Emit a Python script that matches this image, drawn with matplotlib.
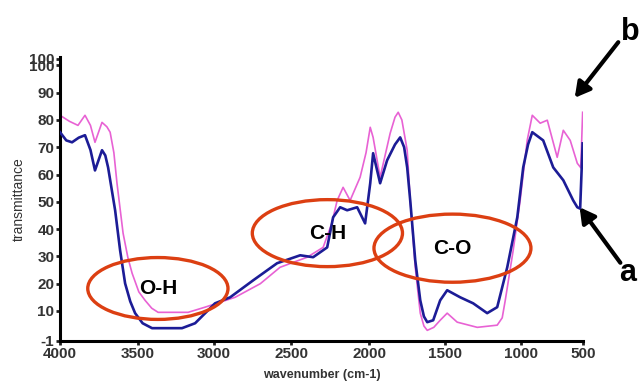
import matplotlib.pyplot as plt
from matplotlib.patches import Ellipse
import numpy as np

plt.rcParams['font.family'] = ['Liberation Sans', 'DejaVu Sans']

# spectrum b (pink)
wn_b = [4000, 3940, 3885, 3840, 3805, 3776, 3731, 3700, 3679, 3655, 3635,
        3596, 3565, 3538, 3495, 3454, 3410, 3368, 3171, 3059, 2864, 2700,
        2572, 2397, 2295, 2240, 2205, 2167, 2122, 2058, 2020, 1993,
        1974, 1928, 1862, 1830, 1809, 1785, 1750, 1730, 1697, 1664, 1640,
        1618, 1575, 1533, 1487, 1421, 1289, 1158, 1125, 1105, 1053, 1007,
        952, 911, 847, 790, 710, 661, 605, 548, 520, 505]
tr_b = [81.7, 79.5, 78.0, 81.7, 78.0, 71.8, 79.1, 77.5, 75.5, 68.0, 56.8,
        38.5, 29.5, 23.8, 17.0, 13.9, 11.0, 9.5, 9.5, 11.4, 15.0, 20.0,
        26.0, 29.7, 33.3, 42.0, 50.5, 55.3, 50.5, 59.0, 68.0, 77.3,
        73.6, 59.0, 75.1, 81.0, 82.8, 80.0, 68.9, 50.5, 26.0, 9.2, 4.5,
        2.9, 4.0, 6.6, 9.2, 5.9, 4.0, 4.8, 7.5, 13.9, 32.2, 50.5,
        72.5, 81.7, 78.8, 79.9, 66.3, 76.2, 72.5, 64.1, 62.5, 82.8]

# spectrum a (blue)
wn_a = [4000, 3960, 3923, 3880, 3840, 3805, 3776, 3731, 3710, 3692, 3647,
        3615, 3583, 3550, 3519, 3470, 3408, 3211, 3125, 2994, 2896, 2747,
        2591, 2442, 2359, 2269, 2231, 2186, 2141, 2077, 2026, 1993, 1974,
        1928, 1882, 1830, 1796, 1770, 1750, 1730, 1697, 1664, 1640, 1618,
        1579, 1533, 1487, 1401, 1316, 1224, 1158, 1092, 1026, 984, 945, 911,
        823, 742, 661, 581, 548, 525, 505]
tr_a = [75.5, 72.5, 71.8, 73.5, 74.4, 69.0, 61.5, 68.9, 67.0, 62.6, 46.9,
        32.2, 20.1, 13.5, 9.2, 5.5, 3.7, 3.7, 5.5, 12.8, 15.0, 21.2,
        27.5, 30.4, 29.7, 33.3, 44.3, 48.0, 46.9, 48.0, 42.1, 56.8, 67.8,
        56.8, 65.2, 71.0, 73.6, 70.0, 62.6, 50.5, 28.6, 13.9, 8.0, 5.9,
        6.6, 13.9, 17.6, 15.0, 12.8, 9.2, 11.4, 26.0, 44.3, 62.6, 71.0, 75.5,
        72.5, 62.6, 57.9, 50.5, 48.0, 47.5, 71.4]

x_ticks = [4000, 3500, 3000, 2500, 2000, 1500, 1000, 500]
y_ticks = [-1, 10, 20, 30, 40, 50, 60, 70, 80, 90, 100, 102.5]
y_labels = ['-1', '10', '20', '30', '40', '50', '60', '70', '80', '90', '100', '100']

# the original axis is not evenly spaced (500 sits closer to 1000)
tick_wn = [0, 500, 1000, 1500, 2000, 2500, 3000, 3500, 4000, 5000]
tick_pos = [-496, 0, 62, 138, 214, 292, 369, 445, 523, 678]


def fwd(v):
    return np.interp(v, tick_wn, tick_pos)


def inv(v):
    return np.interp(v, tick_pos, tick_wn)


fig = plt.figure(figsize=(6.42, 3.81), dpi=100)
ax = fig.add_axes([0.0935, 0.105, 0.815, 0.745])
ax.set_xscale('function', functions=(fwd, inv))

ax.plot(wn_b, tr_b, color='#e862d4', lw=1.2, zorder=2, solid_joinstyle='round')
ax.plot(wn_a, tr_a, color='#1c1c96', lw=1.9, zorder=3, solid_joinstyle='round')

ax.set_xlim(4000, 500)
ax.set_ylim(-1, 103)
ax.set_xticks(x_ticks, [str(t) for t in x_ticks])
ax.set_yticks(y_ticks, y_labels)
ax.minorticks_off()

for s in ['top', 'right']:
    ax.spines[s].set_visible(False)
for s in ['left', 'bottom']:
    ax.spines[s].set_linewidth(2.2)
ax.tick_params(length=3, width=2, labelsize=11, pad=1, colors='#222')
for lab in ax.get_xticklabels() + ax.get_yticklabels():
    lab.set_fontweight('bold')
    lab.set_color('#333')

ax.set_ylabel('transmittance', fontsize=10, color='#333', labelpad=2)
ax.set_xlabel('wavenumber (cm-1)', fontsize=9, fontweight='bold', color='#333', labelpad=6)

# band ellipses, in axes fractions
bands = [('O-H', 0.187, 0.185, 0.268, 0.218),
         ('C-H', 0.511, 0.380, 0.287, 0.236),
         ('C-O', 0.750, 0.327, 0.300, 0.240)]
for name, cx, cy, w, h in bands:
    ax.add_patch(Ellipse((cx, cy), w, h, transform=ax.transAxes, fill=False,
                         edgecolor='#dc3f12', lw=2.4, zorder=4, clip_on=False))
    ax.text(cx, cy, name, transform=ax.transAxes, ha='center', va='center',
            fontsize=15, fontweight='bold', color='black', zorder=5)

# arrows pointing at the two spectra
ax.annotate('', xy=(573 / 642, 1 - 100 / 381), xytext=(620 / 642, 1 - 40 / 381),
            xycoords='figure fraction', textcoords='figure fraction',
            arrowprops=dict(arrowstyle='-|>,head_width=0.5,head_length=0.9',
                            color='black', lw=3))
ax.annotate('', xy=(578 / 642, 1 - 205 / 381), xytext=(622 / 642, 1 - 265 / 381),
            xycoords='figure fraction', textcoords='figure fraction',
            arrowprops=dict(arrowstyle='-|>,head_width=0.5,head_length=0.9',
                            color='black', lw=3))
fig.text(630 / 642, 1 - 32 / 381, 'b', ha='center', va='center',
         fontsize=22, fontweight='bold')
fig.text(628 / 642, 1 - 273 / 381, 'a', ha='center', va='center',
         fontsize=22, fontweight='bold')

fig.savefig('out.png', dpi=100)
